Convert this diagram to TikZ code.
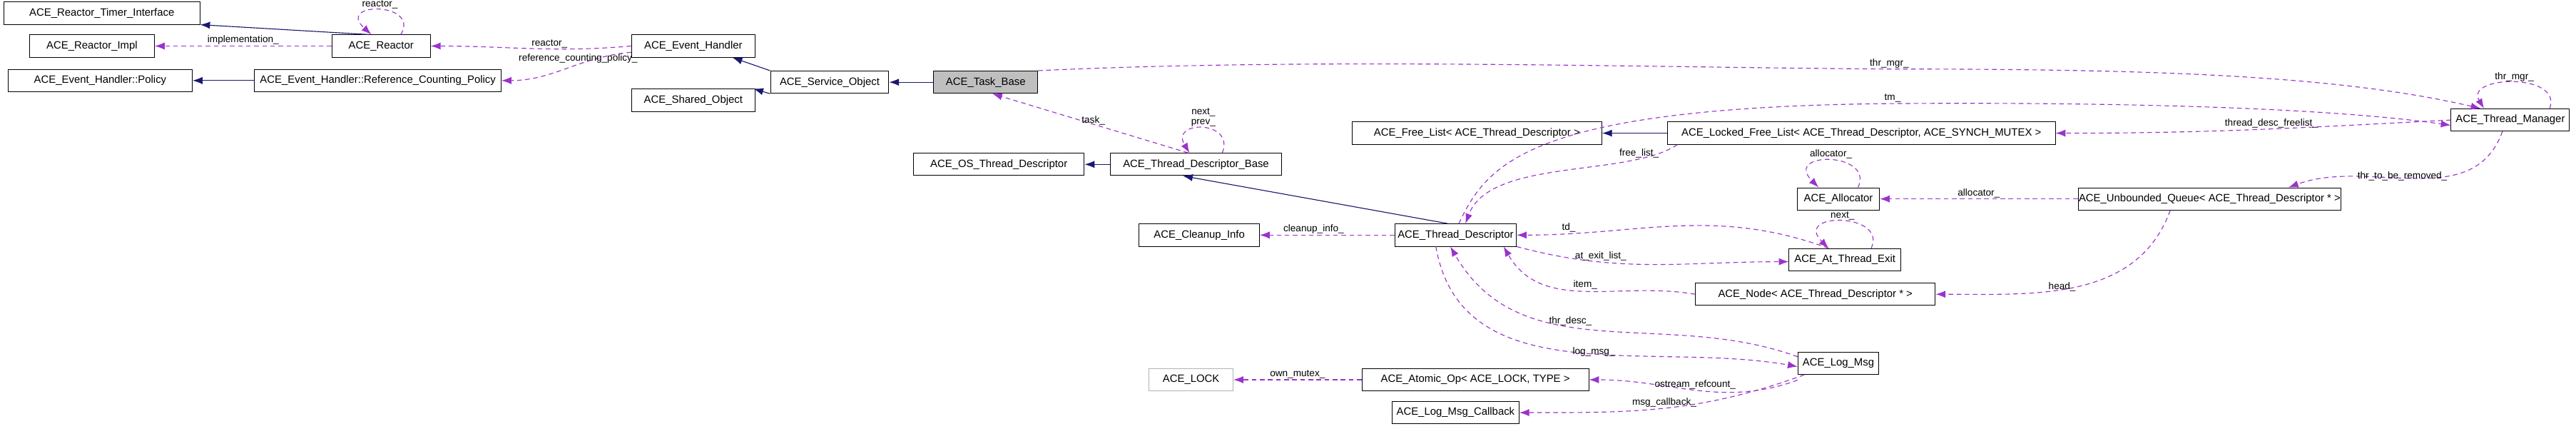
\documentclass[tikz,border=0pt]{standalone}
\usepackage{fontspec}
\setmainfont{Liberation Sans}
\usetikzlibrary{arrows.meta}
\definecolor{edgeNavy}{HTML}{191970}
\definecolor{edgeOrchid}{HTML}{9A32CD}
\tikzset{
  cls/.style={draw=black, line width=0.3pt, minimum height=0.34cm, inner sep=0.3pt, font=\fontsize{4.6}{5}\selectfont},
  clsGray/.style={cls, draw=gray!60},
  clsSel/.style={cls, fill=gray!50},
  inh/.style={edgeNavy, line width=0.35pt, -{Latex[length=1.5mm,width=1.1mm]}},
  mem/.style={edgeOrchid, line width=0.35pt, dash pattern=on 2pt off 1.5pt, -{Latex[length=1.5mm,width=1.1mm]}},
  lbl/.style={font=\fontsize{4.2}{4.6}\selectfont, text=black, inner sep=0.4pt}
}
\begin{document}
\begin{tikzpicture}[x=0.025cm, y=-0.025cm]
    \useasboundingbox (0,0) rectangle (1568,264);
    \node (timerIface) [cls, minimum width=2.98cm] at (62,8) {ACE\_Reactor\_Timer\_Interface};
    \node (reactorImpl) [cls, minimum width=1.9cm] at (56,28) {ACE\_Reactor\_Impl};
    \node (reactor) [cls, minimum width=1.5cm] at (232,28) {ACE\_Reactor};
    \node (policy) [cls, minimum width=2.8cm] at (61,49) {ACE\_Event\_Handler::Policy};
    \node (refPolicy) [cls, minimum width=3.75cm] at (230,49) {ACE\_Event\_Handler::Reference\_Counting\_Policy};
    \node (eventHandler) [cls, minimum width=1.88cm] at (422,28) {ACE\_Event\_Handler};
    \node (sharedObj) [cls, minimum width=1.88cm] at (422,61) {ACE\_Shared\_Object};
    \node (serviceObj) [cls, minimum width=1.8cm] at (505,50) {ACE\_Service\_Object};
    \node (taskBase) [clsSel, minimum width=1.58cm] at (600,50) {ACE\_Task\_Base};
    \node (osThreadDesc) [cls, minimum width=2.6cm] at (608,100) {ACE\_OS\_Thread\_Descriptor};
    \node (threadDescBase) [cls, minimum width=2.6cm] at (728,100) {ACE\_Thread\_Descriptor\_Base};
    \node (freeList) [cls, minimum width=3.8cm] at (899,81) {ACE\_Free\_List< ACE\_Thread\_Descriptor >};
    \node (lockedFreeList) [cls, minimum width=5.9cm] at (1133,81) {ACE\_Locked\_Free\_List< ACE\_Thread\_Descriptor, ACE\_SYNCH\_MUTEX >};
    \node (threadMgr) [cls, minimum width=1.8cm] at (1528,73) {ACE\_Thread\_Manager};
    \node (allocator) [cls, minimum width=1.25cm] at (1119,121) {ACE\_Allocator};
    \node (unboundedQ) [cls, minimum width=3.85cm] at (1345,121) {ACE\_Unbounded\_Queue< ACE\_Thread\_Descriptor * >};
    \node (cleanupInfo) [cls, minimum width=1.83cm] at (730,143) {ACE\_Cleanup\_Info};
    \node (threadDesc) [cls, minimum width=1.85cm] at (886,143) {ACE\_Thread\_Descriptor};
    \node (atThreadExit) [cls, minimum width=1.7cm] at (1123,158) {ACE\_At\_Thread\_Exit};
    \node (nodeTD) [cls, minimum width=3.65cm] at (1105,179) {ACE\_Node< ACE\_Thread\_Descriptor * >};
    \node (lock) [clsGray, minimum width=1.28cm] at (725,231) {ACE\_LOCK};
    \node (atomicOp) [cls, minimum width=3.45cm] at (898,231) {ACE\_Atomic\_Op< ACE\_LOCK, TYPE >};
    \node (logMsg) [cls, minimum width=1.23cm] at (1119,221) {ACE\_Log\_Msg};
    \node (logCallback) [cls, minimum width=1.93cm] at (886,251) {ACE\_Log\_Msg\_Callback};

    % inheritance
    \draw [inh] ([xshift=-2mm]reactor.north) -- (timerIface.south east);
    \draw [inh] (refPolicy) -- (policy);
    \draw [inh] (serviceObj.north west) -- ([xshift=-3.5mm]eventHandler.south east);
    \draw [inh] (serviceObj.south west) -- ([xshift=-0.3mm]sharedObj.north east);
    \draw [inh] (taskBase) -- (serviceObj);
    \draw [inh] (threadDescBase) -- (osThreadDesc);
    \draw [inh] ([xshift=-1.2mm]threadDesc.north) -- ([xshift=-2mm]threadDescBase.south);
    \draw [inh] (lockedFreeList) -- (freeList);

    % members
    \draw [mem] (reactor) -- node[lbl, above] {implementation\_} (reactorImpl);
    \draw [mem] ([xshift=3mm]reactor.north) .. controls +(12,-20) and +(-22,-20) .. node[lbl, above] {reactor\_} ([xshift=-1.5mm]reactor.north);
    \draw [mem] (eventHandler.west) to[out=185, in=0] node[lbl, pos=0.4, above] {reactor\_} (reactor.east);
    \draw [mem] ([yshift=0.8mm]eventHandler.south west) to[out=185, in=0] node[lbl, pos=0.4, above] {reference\_counting\_policy\_} (refPolicy.east);
    \draw [mem] ([xshift=-1.2mm]threadDescBase.north) -- node[lbl, pos=0.55, right] {task\_} ([xshift=1mm]taskBase.south);
    \draw [mem] ([xshift=4mm]threadDescBase.north) .. controls +(8,-20) and +(-12,-20) .. node[lbl, above, align=center] {next\_\\prev\_} ([xshift=-1mm]threadDescBase.north);
    \draw [mem] (taskBase.north east) .. controls (800,35) and (1000,41) .. (1150,42) node[lbl, above] {thr\_mgr\_} .. controls (1300,42) and (1420,45) .. ([xshift=-4.5mm]threadMgr.north);
    \draw [mem] ([xshift=6mm]threadMgr.north) .. controls +(8,-22) and +(-12,-20) .. node[lbl, above] {thr\_mgr\_} ([xshift=-4mm]threadMgr.north);
    \draw [mem] ([xshift=0.5mm]threadDesc.north) .. controls (905,100) and (930,65) .. (1152,63) node[lbl, above] {tm\_} .. controls (1300,62) and (1420,66) .. ([yshift=-0.8mm]threadMgr.west);
    \draw [mem] (threadMgr.west) to[out=183, in=0] node[lbl, pos=0.45, above] {thread\_desc\_freelist\_} (lockedFreeList.east);
    \draw [mem] ([xshift=-1.2mm]threadMgr.south) to[out=-110, in=20] node[lbl, pos=0.35, left] {thr\_to\_be\_removed\_} ([xshift=12mm]unboundedQ.north);
    \draw [mem] ([xshift=-28mm]lockedFreeList.south) .. controls +(-30,20) and +(15,-40) .. node[lbl, pos=0.1, left] {free\_list\_} ([xshift=1.5mm]threadDesc.north);
    \draw [mem] ([xshift=3mm]allocator.north) .. controls +(10,-22) and +(-22,-22) .. node[lbl, above] {allocator\_} ([xshift=-3mm]allocator.north);
    \draw [mem] (unboundedQ) -- node[lbl, above] {allocator\_} (allocator);
    \draw [mem] (threadDesc) -- node[lbl, pos=0.6, above] {cleanup\_info\_} (cleanupInfo);
    \draw [mem] ([xshift=-2.5mm]atThreadExit.north) to[out=160, in=0] node[lbl, pos=0.85, above] {td\_} (threadDesc.east);
    \draw [mem] (threadDesc.south east) to[out=-15, in=180] node[lbl, pos=0.3, above] {at\_exit\_list\_} ([yshift=-0.3mm]atThreadExit.west);
    \draw [mem] ([xshift=4mm]atThreadExit.north) .. controls +(10,-22) and +(-22,-22) .. node[lbl, above] {next\_} ([xshift=-2.5mm]atThreadExit.north);
    \draw [mem] (nodeTD.west) to[out=170, in=-60] node[lbl, pos=0.5, above] {item\_} ([xshift=-2mm]threadDesc.south east);
    \draw [mem] ([xshift=-6mm]unboundedQ.south) to[out=-110, in=0] node[lbl, pos=0.5, left] {head\_} (nodeTD.east);
    \draw [mem] ([yshift=1mm]logMsg.west) to[out=160, in=-60] node[lbl, pos=0.65, right] {thr\_desc\_} ([xshift=-0.8mm]threadDesc.south);
    \draw [mem] ([xshift=-3mm]threadDesc.south) to[out=-80, in=170] node[lbl, pos=0.5, right] {log\_msg\_} ([yshift=-0.5mm]logMsg.west);
    \draw [mem] (atomicOp) -- node[lbl, above] {own\_mutex\_} (lock);
    \draw [mem] ([yshift=-0.8mm]logMsg.south west) to[out=200, in=0] node[lbl, pos=0.5, above] {ostream\_refcount\_} (atomicOp.east);
    \draw [mem] ([xshift=1mm]logMsg.south west) to[out=200, in=0] node[lbl, pos=0.5, above] {msg\_callback\_} (logCallback.east);
\end{tikzpicture}
\end{document}
